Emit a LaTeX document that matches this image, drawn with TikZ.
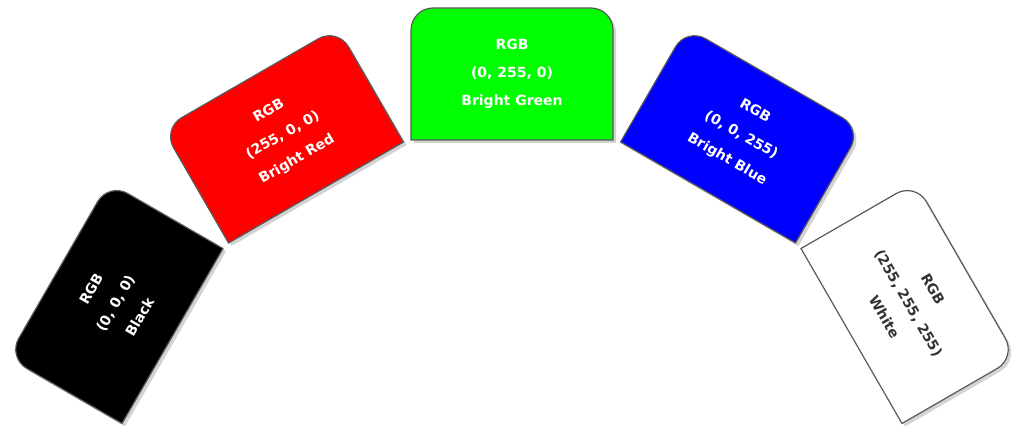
\documentclass[tikz,border=0pt]{standalone}
\usepackage{fontspec}
\setmainfont{DejaVu Sans}
\usetikzlibrary{calc,shadows}
\tikzset{
  tabshape/.style={draw=#1!70!black, line width=1.2pt, drop shadow={shadow xshift=3pt, shadow yshift=-3pt, opacity=.35}},
  tablabel/.style={align=center, font=\bfseries\fontsize{14}{28}\selectfont, transform shape}
}
\definecolor{tabred}{RGB}{255,0,0}
\definecolor{tabgreen}{RGB}{0,255,0}
\definecolor{tabblue}{RGB}{0,0,255}
\definecolor{tabwhite}{RGB}{255,255,255}
\definecolor{tabblack}{RGB}{0,0,0}
\begin{document}
\begin{tikzpicture}[x=1pt,y=1pt]
  \useasboundingbox (0,0) rectangle (1024,430);
  \coordinate (c) at (512,-102);
  % one tab per colour, fanned round c
  \foreach \ang/\col/\txt/\name/\lab in {
      60/tabblack/white/black/{RGB\\(0, 0, 0)\\Black},
      30/tabred/white/red/{RGB\\(255, 0, 0)\\Bright Red},
      0/tabgreen/white/green/{RGB\\(0, 255, 0)\\Bright Green},
      -30/tabblue/white/blue/{RGB\\(0, 0, 255)\\Bright Blue},
      -60/tabwhite/black!80/white/{RGB\\(255, 255, 255)\\White}} {
    \begin{scope}[shift={($(c)+(90+\ang:392)$)}, rotate=\ang]
      \fill[tabshape=gray, fill=\col] (-101,0) [rounded corners=22pt] -- (-101,132) -- (101,132) [sharp corners] -- (101,0) -- cycle;
      \node[tablabel, text=\txt] (\name) at (0,66) {\lab};
    \end{scope}
  }
\end{tikzpicture}
\end{document}
